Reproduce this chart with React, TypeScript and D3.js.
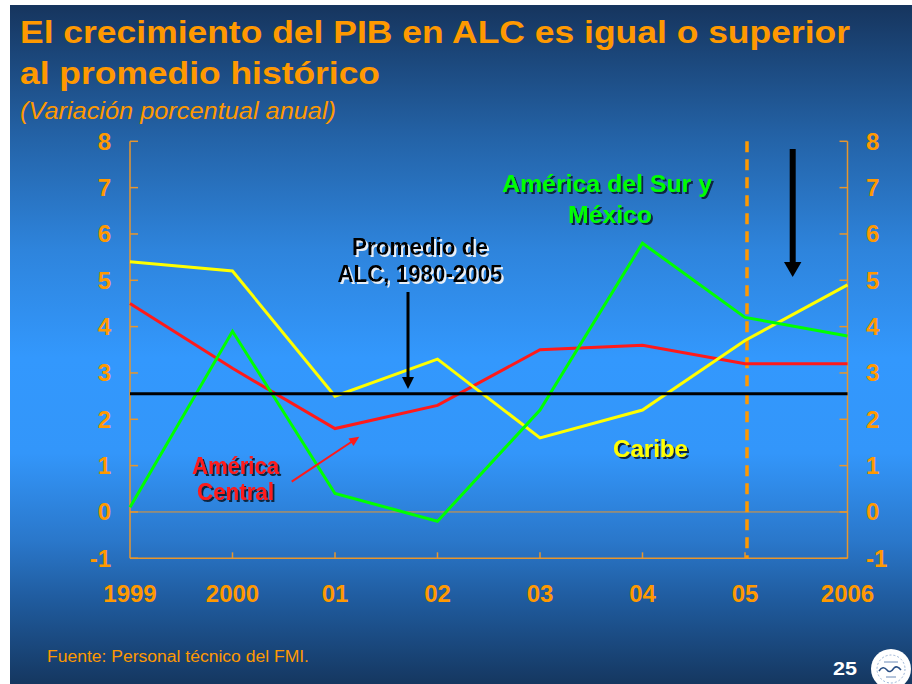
import React from 'react';
import * as d3 from 'd3';

const categories = ['1999', '2000', '01', '02', '03', '04', '05', '2006'];
const caribe = [5.4, 5.2, 2.5, 3.3, 1.6, 2.2, 3.7, 4.9];
const americaCentral = [4.5, 3.1, 1.8, 2.3, 3.5, 3.6, 3.2, 3.2];
const americaSurMexico = [0.1, 3.9, 0.4, -0.2, 2.2, 5.8, 4.2, 3.8];
const promedioALC = 2.55;
const yTicks = [-1, 0, 1, 2, 3, 4, 5, 6, 7, 8];
const projectionStart = '05';

const FONT = "'Liberation Sans', Arial, Helvetica, sans-serif";
const ORANGE = '#ff9900';
const AXIS = '#e8962c';

const W = 912;
const H = 684;

type TxtProps = {
  x: number;
  y: number;
  text: string;
  size: number;
  width?: number;
  anchor?: 'start' | 'middle' | 'end';
  fill: string;
  weight?: string;
  italic?: boolean;
  filter?: string;
};

function Txt({ x, y, text, size, width, anchor = 'start', fill, weight = 'bold', italic, filter }: TxtProps) {
  const common: any = {
    fontFamily: FONT,
    fontSize: size,
    fontWeight: weight,
    fontStyle: italic ? 'italic' : 'normal',
    textAnchor: anchor,
  };
  if (width) {
    common.textLength = width;
    common.lengthAdjust = 'spacingAndGlyphs';
  }
  if (filter) common.filter = `url(#${filter})`;
  return (
    <text x={x} y={y} fill={fill} {...common}>
      {text}
    </text>
  );
}

export default function App() {
  const x = d3.scalePoint<string>().domain(categories).range([130, 847.5]);
  const y = d3.scaleLinear().domain([-1, 8]).range([558.3, 141.3]);

  const line = d3
    .line<number>()
    .x((_, i) => x(categories[i]) as number)
    .y((d) => y(d));

  const x0 = x(categories[0]) as number;
  const x1 = x(categories[categories.length - 1]) as number;
  const yTop = y(8);
  const yBot = y(-1);
  const xProj = (x(projectionStart) as number) + 2;

  const series = [
    { name: 'América Central', values: americaCentral, color: '#ff1a1a' },
    { name: 'Caribe', values: caribe, color: '#ffff00' },
    { name: 'América del Sur y México', values: americaSurMexico, color: '#00ff00' },
  ];

  const yAvg = y(promedioALC);

  return (
    <svg
      width={W}
      height={H}
      style={{ position: 'absolute', left: 0, top: 0, display: 'block' }}
    >
      <defs>
        <linearGradient id="bg" x1="0" y1="0" x2="0" y2="1">
          <stop offset="0" stopColor="#16355e" />
          <stop offset="0.2" stopColor="#2464a9" />
          <stop offset="0.36" stopColor="#2e84dc" />
          <stop offset="0.52" stopColor="#3398fd" />
          <stop offset="0.66" stopColor="#3396fa" />
          <stop offset="0.79" stopColor="#2a77ca" />
          <stop offset="0.88" stopColor="#1f5a9c" />
          <stop offset="1" stopColor="#153760" />
        </linearGradient>
        <filter id="darkShadow" x="-10%" y="-20%" width="130%" height="150%">
          <feDropShadow dx="2" dy="2" stdDeviation="0.3" floodColor="#10253f" floodOpacity="1" />
        </filter>
        <filter id="lightShadow" x="-10%" y="-20%" width="130%" height="150%">
          <feDropShadow dx="2" dy="2" stdDeviation="0.3" floodColor="#e8eef6" floodOpacity="1" />
        </filter>
      </defs>
      <rect x={0} y={0} width={W} height={H} fill="#ffffff" />
      <rect x={10} y={5} width={W - 10} height={H - 5} fill="url(#bg)" />

      {/* Title */}
      <Txt x={20} y={42.5} text="El crecimiento del PIB en ALC es igual o superior" size={31} width={830} fill={ORANGE} />
      <Txt x={20} y={83.5} text="al promedio histórico" size={31} width={360} fill={ORANGE} />
      <Txt x={20} y={119} text="(Variación porcentual anual)" size={23} width={316} fill={ORANGE} weight="normal" italic />

      {/* zero line */}
      <line x1={x0} x2={x1} y1={y(0)} y2={y(0)} stroke={AXIS} strokeWidth={1} />

      {/* axes */}
      <g stroke={AXIS} strokeWidth={1.5} fill="none">
        <line x1={x0} x2={x0} y1={yTop} y2={yBot} />
        <line x1={x1} x2={x1} y1={yTop} y2={yBot} />
        <line x1={x0} x2={x1} y1={yBot} y2={yBot} />
        {yTicks.map((t) => (
          <g key={t}>
            <line x1={x0} x2={x0 + 8} y1={y(t)} y2={y(t)} />
            <line x1={x1 - 8} x2={x1} y1={y(t)} y2={y(t)} />
          </g>
        ))}
        {categories.slice(1, -1).map((c) => (
          <line key={c} x1={x(c) as number} x2={x(c) as number} y1={yBot} y2={yBot - 6} />
        ))}
      </g>

      {/* tick labels */}
      {yTicks.map((t) => (
        <g key={t}>
          <text x={111} y={y(t) + 8.5} fill={ORANGE} fontFamily={FONT} fontWeight="bold" fontSize={24} textAnchor="end">
            {t}
          </text>
          <text x={866} y={y(t) + 8.5} fill={ORANGE} fontFamily={FONT} fontWeight="bold" fontSize={24} textAnchor="start">
            {t}
          </text>
        </g>
      ))}
      {categories.map((c) => (
        <text key={c} x={x(c) as number} y={601.5} fill={ORANGE} fontFamily={FONT} fontWeight="bold" fontSize={24} textAnchor="middle">
          {c}
        </text>
      ))}

      {/* projection dashed line */}
      <line x1={xProj} x2={xProj} y1={yTop} y2={yBot} stroke={ORANGE} strokeWidth={3.5} strokeDasharray="11,7" />

      {/* series */}
      {series.map((s) => (
        <path key={s.name} d={line(s.values) as string} fill="none" stroke={s.color} strokeWidth={3} strokeLinejoin="miter" />
      ))}

      {/* average line */}
      <line x1={x0} x2={x1} y1={yAvg} y2={yAvg} stroke="#000000" strokeWidth={3} />

      {/* Promedio annotation */}
      <Txt x={420} y={255} text="Promedio de" size={23} width={136} anchor="middle" fill="#000000" filter="lightShadow" />
      <Txt x={420} y={281.5} text="ALC, 1980-2005" size={23} width={165} anchor="middle" fill="#000000" filter="lightShadow" />
      <line x1={408} x2={408} y1={292} y2={379} stroke="#000" strokeWidth={3} />
      <polygon points={`402,377 414,377 408,389`} fill="#000" />

      {/* big arrow */}
      <rect x={789.7} y={149} width={6} height={116} fill="#000" />
      <polygon points={`784,262 801.4,262 792.7,277`} fill="#000" />

      {/* América del Sur y México */}
      <Txt x={607} y={191.5} text="América del Sur y" size={23} width={210} anchor="middle" fill="#00ff00" filter="darkShadow" />
      <Txt x={610} y={223} text="México" size={23} width={84} anchor="middle" fill="#00ff00" filter="darkShadow" />

      {/* América Central */}
      <Txt x={235.5} y={474} text="América" size={23} width={87} anchor="middle" fill="#ff1a1a" filter="darkShadow" />
      <Txt x={235.5} y={500} text="Central" size={23} width={77} anchor="middle" fill="#ff1a1a" filter="darkShadow" />
      <line x1={291.7} y1={481.7} x2={352} y2={441.5} stroke="#ff1a1a" strokeWidth={2} />
      <polygon points={`359.3,436.7 348.5,438.5 353.5,446`} fill="#ff1a1a" />

      {/* Caribe */}
      <Txt x={650.5} y={457} text="Caribe" size={23} width={75} anchor="middle" fill="#ffff00" filter="darkShadow" />

      {/* footer */}
      <Txt x={47} y={661.5} text="Fuente: Personal técnico del FMI." size={16} width={262} fill={ORANGE} weight="normal" />
      <Txt x={833} y={675} text="25" size={19} width={24} fill="#ffffff" />

      {/* logo */}
      <g>
        <circle cx={891} cy={669} r={20} fill="#ffffff" />
        <circle cx={891} cy={669} r={14} fill="none" stroke="#9ab3d6" strokeWidth={1} strokeDasharray="2,2" />
        <path d="M879,671 q4,-6 8,-1 q3,4 7,-2 q3,-3 7,2" fill="none" stroke="#2a4f85" strokeWidth={1.5} />
        <path d="M884,662 h14 M886,677 h10" stroke="#6a8ab8" strokeWidth={1} />
      </g>
    </svg>
  );
}
